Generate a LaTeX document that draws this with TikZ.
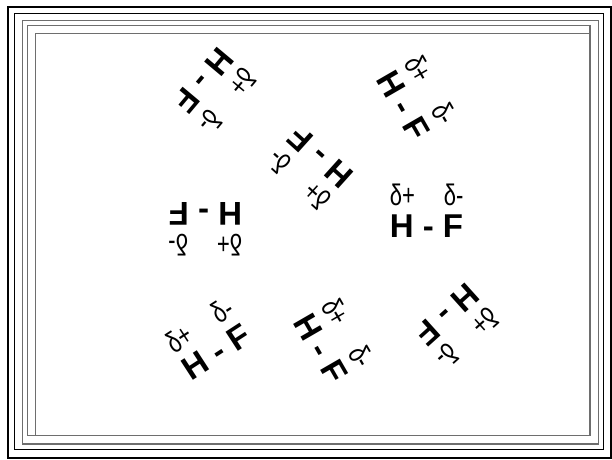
\documentclass[tikz,border=0pt]{standalone}
\usepackage{fontspec}
\setmainfont{Liberation Sans}
\usepackage{graphicx}
\definecolor{framegray}{RGB}{110,110,110}
\tikzset{
  hf/.style={anchor=base west, inner sep=0pt, font=\fontsize{33}{33}\selectfont\bfseries},
  dl/.style={anchor=base west, inner sep=0pt, font=\fontsize{22}{22}\selectfont},
  outerline/.style={draw=black, line width=2pt},
  blackline/.style={draw=black, line width=1.2pt},
  grayline/.style={draw=framegray, line width=1.2pt},
}
\newcommand{\hfmol}[4]{%
  \begin{scope}[shift={(#2,459-#3)}, rotate=#4, transform shape]
    \node[hf] (#1hf) at (-39.3,-26) {H - F};
    \node[dl] (#1dp) at (-39.2,6) {\scalebox{1}[1.35]{δ+}};
    \node[dl] (#1dm) at (14.8,6) {\scalebox{1}[1.35]{δ-}};
  \end{scope}}
\begin{document}
\begin{tikzpicture}[x=1pt,y=1pt]
  \useasboundingbox (0,0) rectangle (612,459);
  % frame
  \draw[outerline] (7.5,459-7) rectangle (611,459-457.5);
  \draw[blackline] (14.5,459-13.5) rectangle (603.5,459-449.5);
  \draw[grayline] (22.5,459-20.5) rectangle (598.5,459-444);
  \draw[grayline] (27.5,459-25.5) rectangle (590,459-435.5);
  \draw[grayline] (35.5,459-33.5) rectangle (590,459-435.5);
  % molecules
  \hfmol{ma}{213.3}{91.8}{230}
  \hfmol{mb}{417.3}{100.1}{-60}
  \hfmol{mc}{309}{166.4}{138}
  \hfmol{md}{203}{228}{180}
  \hfmol{me}{428.9}{211}{0}
  \hfmol{mf}{210.6}{337.9}{33}
  \hfmol{mg}{334.5}{343.1}{-60}
  \hfmol{mh}{454.9}{327.1}{222}
\end{tikzpicture}
\end{document}
